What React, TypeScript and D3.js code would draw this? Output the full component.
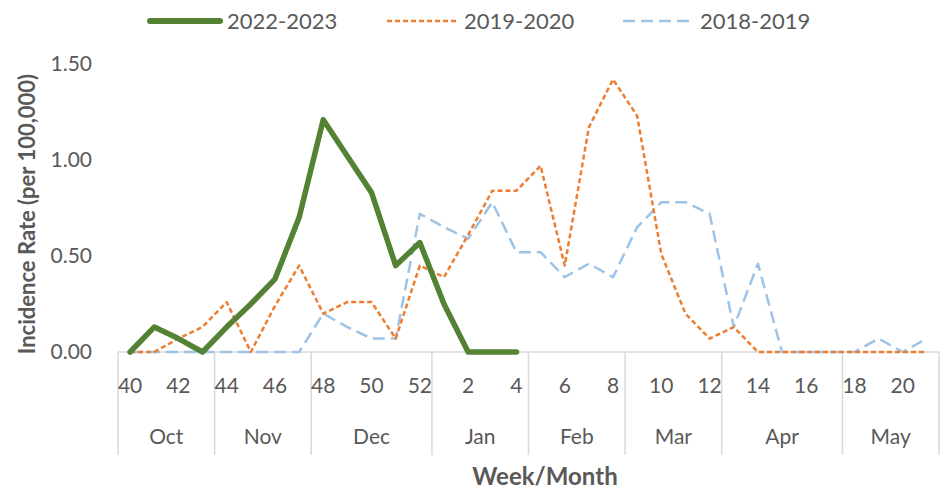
import React, { useEffect, useRef } from 'react';
import * as d3 from 'd3';

// week numbers on the x axis (flu season, week 40 through week 21)
const weeks = [40, 41, 42, 43, 44, 45, 46, 47, 48, 49, 50, 51, 52, 1, 2, 3, 4, 5, 6, 7, 8, 9, 10, 11, 12, 13, 14, 15, 16, 17, 18, 19, 20, 21];
const months = ['Oct', 'Nov', 'Dec', 'Jan', 'Feb', 'Mar', 'Apr', 'May'];
const weeksPerMonth = [4, 4, 5, 4, 4, 4, 5, 4];
const yTicks = [0, 0.5, 1, 1.5];

// incidence rate per 100,000
const season2223 = [0, 0.13, 0.07, 0, 0.13, 0.25, 0.38, 0.7, 1.21, 1.02, 0.83, 0.45, 0.57, 0.25, 0, 0, 0];
const season1920 = [0, 0, 0.07, 0.13, 0.26, 0, 0.24, 0.45, 0.2, 0.26, 0.26, 0.07, 0.45, 0.39, 0.61, 0.84, 0.84, 0.97, 0.45, 1.17, 1.42, 1.23, 0.51, 0.2, 0.07, 0.13, 0, 0, 0, 0, 0, 0, 0, 0];
const season1819 = [0, 0, 0, 0, 0, 0, 0, 0, 0.2, 0.13, 0.07, 0.07, 0.72, 0.65, 0.59, 0.78, 0.52, 0.52, 0.39, 0.46, 0.39, 0.65, 0.78, 0.78, 0.72, 0.13, 0.46, 0, 0, 0, 0, 0.07, 0, 0.07];

const series = [
  { name: '2022-2023', values: season2223, color: '#548235', width: 5.5, dash: null },
  { name: '2019-2020', values: season1920, color: '#ED7D31', width: 2.5, dash: '5,3' },
  { name: '2018-2019', values: season1819, color: '#9DC3E6', width: 2.5, dash: '12,6' },
];

const font = 'Lato, "Open Sans", sans-serif';
const textColor = '#595959';

const App = () => {
  const chartRef = useRef<SVGSVGElement>(null);

  useEffect(() => {
    const width = 944;
    const height = 492;
    const left = 118;
    const right = 939;
    const top = 64;
    const bottom = 352;

    const svg = d3.select(chartRef.current);
    svg.selectAll('*').remove();

    const x = d3.scaleBand<number>().domain(weeks).range([left, right]).padding(0);
    const y = d3.scaleLinear().domain([0, 1.5]).range([bottom, top]);
    const cx = (w: number) => (x(w) as number) + x.bandwidth() / 2;

    // y axis labels
    svg.append('g')
      .selectAll('text')
      .data(yTicks)
      .join('text')
      .attr('x', 92)
      .attr('y', d => y(d))
      .attr('dy', '0.35em')
      .attr('text-anchor', 'end')
      .style('font-family', font)
      .style('font-size', '21px')
      .attr('fill', textColor)
      .text(d => d3.format('.2f')(d));

    // x axis line
    svg.append('line')
      .attr('x1', left).attr('x2', right)
      .attr('y1', bottom).attr('y2', bottom)
      .attr('stroke', '#d9d9d9').attr('stroke-width', 1.5);

    // month separators
    let acc = 0;
    const bounds = [left];
    weeksPerMonth.forEach(n => {
      acc += n;
      bounds.push(acc < weeks.length ? (x(weeks[acc]) as number) : right);
    });
    svg.append('g')
      .selectAll('line')
      .data(bounds)
      .join('line')
      .attr('x1', d => d).attr('x2', d => d)
      .attr('y1', bottom).attr('y2', 455)
      .attr('stroke', '#d9d9d9').attr('stroke-width', 1.5);

    // week labels (every other week)
    svg.append('g')
      .selectAll('text')
      .data(weeks.filter((_, i) => i % 2 === 0))
      .join('text')
      .attr('x', d => cx(d))
      .attr('y', 386)
      .attr('dy', '0.35em')
      .attr('text-anchor', 'middle')
      .style('font-family', font)
      .style('font-size', '21px')
      .attr('fill', textColor)
      .text(d => d);

    // month labels
    svg.append('g')
      .selectAll('text')
      .data(months)
      .join('text')
      .attr('x', (d, i) => (bounds[i] + bounds[i + 1]) / 2)
      .attr('y', 437)
      .attr('dy', '0.35em')
      .attr('text-anchor', 'middle')
      .style('font-family', font)
      .style('font-size', '21px')
      .attr('fill', textColor)
      .text(d => d);

    // lines (drawn back to front)
    const line = d3.line<number>()
      .x((d, i) => cx(weeks[i]))
      .y(d => y(d));

    [...series].reverse().forEach(s => {
      svg.append('path')
        .datum(s.values)
        .attr('d', line)
        .attr('fill', 'none')
        .attr('stroke', s.color)
        .attr('stroke-width', s.width)
        .attr('stroke-linejoin', 'round')
        .attr('stroke-linecap', s.dash ? 'butt' : 'round')
        .attr('stroke-dasharray', s.dash);
    });

    // legend
    const legendX = [150, 387, 623];
    const legend = svg.append('g')
      .selectAll('g')
      .data(series)
      .join('g')
      .attr('transform', (d, i) => `translate(${legendX[i]},21)`);
    legend.append('line')
      .attr('x1', 0).attr('x2', 70)
      .attr('stroke', d => d.color)
      .attr('stroke-width', d => (d.dash ? d.width : 6))
      .attr('stroke-linecap', d => (d.dash ? 'butt' : 'round'))
      .attr('stroke-dasharray', d => d.dash);
    legend.append('text')
      .attr('x', 77)
      .attr('dy', '0.35em')
      .style('font-family', font)
      .style('font-size', '22px')
      .attr('fill', textColor)
      .text(d => d.name);

    // axis titles
    svg.append('text')
      .attr('transform', `translate(27,214) rotate(-90)`)
      .attr('text-anchor', 'middle')
      .attr('dy', '0.35em')
      .style('font-family', font)
      .style('font-size', '22px')
      .style('font-weight', 'bold')
      .attr('fill', textColor)
      .text('Incidence Rate (per 100,000)');

    svg.append('text')
      .attr('x', 545)
      .attr('y', 477)
      .attr('dy', '0.35em')
      .attr('text-anchor', 'middle')
      .style('font-family', font)
      .style('font-size', '24px')
      .style('font-weight', 'bold')
      .attr('fill', textColor)
      .text('Week/Month');

    svg.attr('width', width).attr('height', height);
  }, []);

  return (
    <svg ref={chartRef} width={944} height={492} style={{ position: 'absolute', left: 0, top: 0, background: '#fff' }} />
  );
};

export default App;
